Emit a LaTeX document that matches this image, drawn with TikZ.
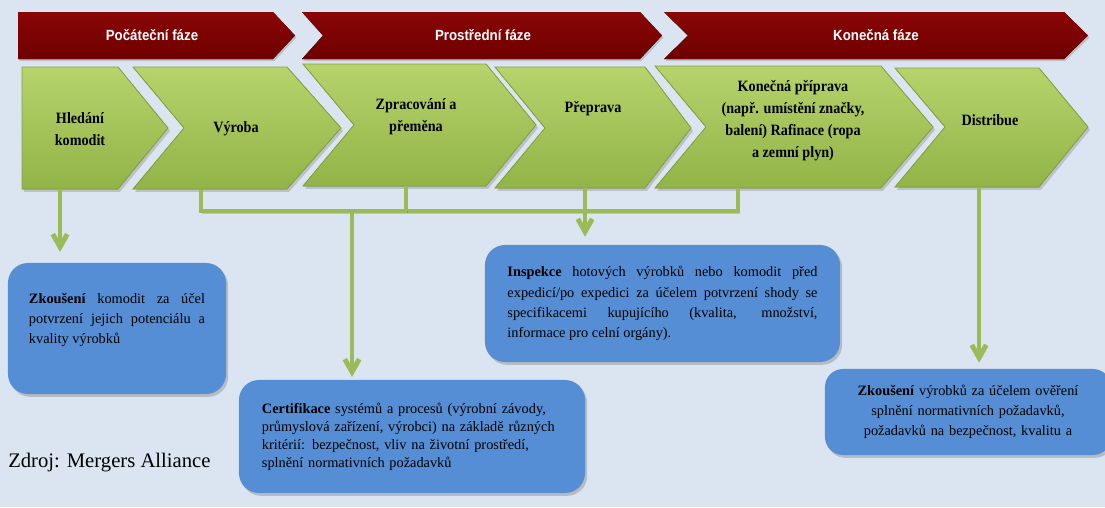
\documentclass[tikz,border=0pt]{standalone}
\usepackage{fontspec}
\setmainfont{Liberation Serif}
\newfontfamily\pasfont[FakeStretch=0.9]{Liberation Sans}
\newfontfamily\krokfont[FakeStretch=0.9]{Liberation Serif}
\usetikzlibrary{arrows.meta,shadows}

\definecolor{pozadi}{HTML}{DBE5F1}
\definecolor{cervena1}{HTML}{8A0606}
\definecolor{cervena2}{HTML}{6E0000}
\definecolor{zelena1}{HTML}{B6D36C}
\definecolor{zelena2}{HTML}{92B447}
\definecolor{zelenaokraj}{HTML}{84A23D}
\definecolor{modra}{HTML}{558ED5}
\definecolor{linka}{HTML}{9BBB59}

\tikzset{
  pas/.style={top color=cervena1, bottom color=cervena2,
    drop shadow={shadow xshift=1pt, shadow yshift=-1.5pt, opacity=0.35}},
  krok/.style={top color=zelena1, bottom color=zelena2, draw=zelenaokraj, line width=0.6pt,
    drop shadow={shadow xshift=1.5pt, shadow yshift=-2pt, opacity=0.35}},
  fazetext/.style={text=white, font=\pasfont\fontsize{10.5}{12}\selectfont\bfseries},
  kroktext/.style={align=center, font=\krokfont\fontsize{11.2}{15.6}\selectfont\bfseries},
  ramecek/.style={fill=modra, rounded corners=0.5cm, inner sep=0pt,
    drop shadow={shadow xshift=1.5pt, shadow yshift=-2pt, opacity=0.4},
    font=\fontsize{10.2}{14.4}\selectfont},
  tok/.style={draw=linka, line width=3.5pt,
    preaction={draw=black, opacity=0.15, transform canvas={shift={(1pt,-1.5pt)}}}},
  sip/.style={-{Straight Barb[length=3.2mm,width=3.6mm]}}
}

\begin{document}
\begin{tikzpicture}[x=0.025cm, y=-0.025cm]
\useasboundingbox (0,0) rectangle (1105,507);
\fill[pozadi] (0,0) rectangle (1105,507);

% faze
\fill[pas] (18,12) -- (273,12) -- (295,35.5) -- (273,59) -- (18,59) -- cycle;
\fill[pas] (302,12) -- (640,12) -- (662,35.5) -- (640,59) -- (302,59) -- (323,35.5) -- cycle;
\fill[pas] (664,12) -- (1064,12) -- (1088,35.5) -- (1064,59) -- (664,59) -- (688,35.5) -- cycle;
\node[fazetext] (pocatek) at (152,35) {Počáteční fáze};
\node[fazetext] (stred) at (483,35) {Prostřední fáze};
\node[fazetext] (konec) at (876,35) {Konečná fáze};

% kroky
\filldraw[krok] (22,67) -- (118,67) -- (168,128) -- (118,189) -- (22,189) -- cycle;
\filldraw[krok] (133,67) -- (287,67) -- (341,128) -- (287,189) -- (133,189) -- (184,128) -- cycle;
\filldraw[krok] (303,64) -- (486,64) -- (536,125) -- (486,186) -- (303,186) -- (354,125) -- cycle;
\filldraw[krok] (495,67) -- (645,67) -- (691,128) -- (645,188) -- (495,188) -- (545,128) -- cycle;
\filldraw[krok] (655,66) -- (881,66) -- (933,127) -- (881,188) -- (655,188) -- (706,127) -- cycle;
\filldraw[krok] (895,68) -- (1039,68) -- (1088,127) -- (1039,187) -- (895,187) -- (945,127) -- cycle;

\node[kroktext] (hledani) at (80,129) {Hledání\\komodit};
\node[kroktext] (vyroba) at (236,129) {Výroba};
\node[kroktext] (zpracovani) at (416,117) {Zpracování a\\přeměna};
\node[kroktext] (preprava) at (593,109) {Přeprava};
\node[kroktext] (konecna) at (793,121) {Konečná příprava\\(např. umístění značky,\\balení) Rafinace (ropa\\a zemní plyn)};
\node[kroktext] (distribuce) at (990,120) {Distribue};

\coordinate (hledani-b) at (60,189);
\coordinate (vyroba-b) at (201,190);
\coordinate (zpracovani-b) at (406,186);
\coordinate (preprava-b) at (585,188);
\coordinate (konecna-b) at (738,188);
\coordinate (distribuce-b) at (979,187);
\coordinate (spoj) at (352,211);

% ramecky
\node[ramecek, minimum width=5.45cm, minimum height=3.275cm, text width=4.4cm, align=justify] (zkomodit) at (117,328.5)
  {\textbf{Zkoušení} komodit za účel\linebreak potvrzení jejich potenciálu a\linebreak kvality výrobků\par\rule{0pt}{0.42cm}};
\node[ramecek, minimum width=8.875cm, minimum height=2.925cm, text width=7.75cm, align=justify] (inspekce) at (662.5,303.5)
  {\textbf{Inspekce} hotových výrobků nebo komodit před\linebreak expedicí/po expedici za účelem potvrzení shody se\linebreak specifikacemi kupujícího (kvalita, množství,\linebreak informace pro celní orgány).};
\node[ramecek, minimum width=8.65cm, minimum height=2.825cm, text width=7.5cm, align=left,
  font=\fontsize{10.2}{12.8}\selectfont] (certifikace) at (412,436.5)
  {\textbf{Certifikace} systémů a procesů (výrobní závody,\\průmyslová zařízení, výrobci) na základě různých\\kritérií: bezpečnost, vliv na životní prostředí,\\splnění normativních požadavků};
\node[ramecek, rounded corners=0.45cm, minimum width=7.15cm, minimum height=2.15cm, text width=7cm, align=center] (zvyrobku) at (968,412)
  {\textbf{Zkoušení} výrobků za účelem ověření\\splnění normativních požadavků,\\požadavků na bezpečnost, kvalitu a};

% spojnice
\draw[tok, sip, shorten >=0.27cm] (hledani-b) -- (hledani-b |- zkomodit.north);
\draw[tok] (vyroba-b) -- (vyroba-b |- spoj) -- (konecna-b |- spoj) -- (konecna-b);
\draw[tok] (zpracovani-b) -- (zpracovani-b |- spoj);
\draw[tok, sip, shorten >=0.07cm] (spoj) -- (spoj |- certifikace.north);
\draw[tok, sip, shorten >=0.2cm] (preprava-b) -- (preprava-b |- inspekce.north);
\draw[tok, sip, shorten >=0.15cm] (distribuce-b) -- (distribuce-b |- zvyrobku.north);

\node[anchor=west, inner sep=0pt, font=\fontsize{14.7}{16}\selectfont] (zdroj) at (8,463) {Zdroj: Mergers Alliance};
\end{tikzpicture}
\end{document}
